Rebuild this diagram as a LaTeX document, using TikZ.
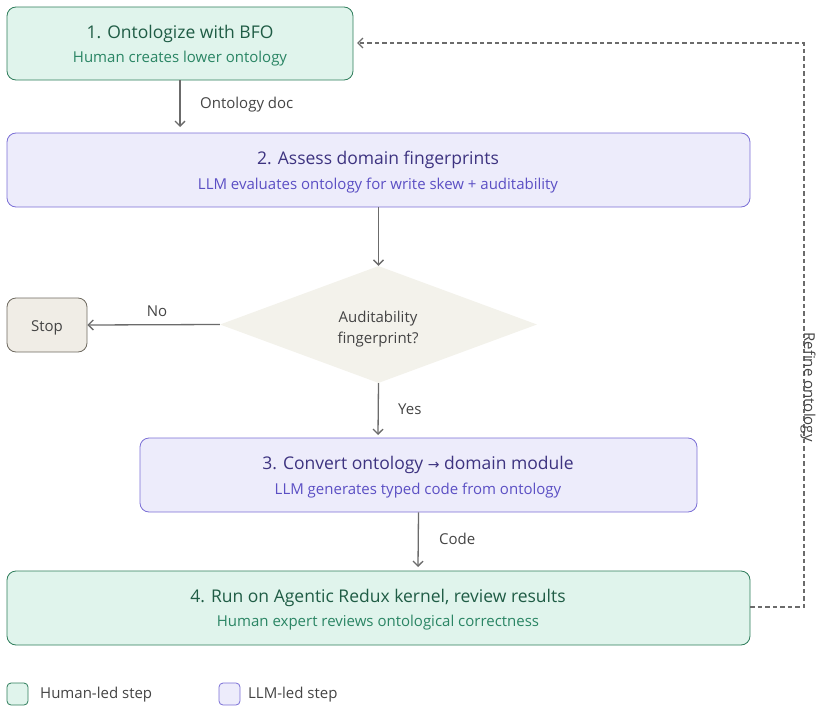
\documentclass[tikz,border=0pt]{standalone}
\usepackage{fontspec}
\setmainfont{Open Sans}
\newfontfamily\symfont{DejaVu Sans}
\usetikzlibrary{shapes.geometric,arrows.meta}
\definecolor{hfill}{HTML}{E0F4EC}
\definecolor{hdraw}{HTML}{2E7D5B}
\definecolor{htitle}{HTML}{1F5C45}
\definecolor{hsub}{HTML}{2A8564}
\definecolor{lfill}{HTML}{EDECFB}
\definecolor{ldraw}{HTML}{7B6FD6}
\definecolor{ltitle}{HTML}{3D3380}
\definecolor{lsub}{HTML}{5B4FC4}
\definecolor{dfill}{HTML}{F3F2EB}
\definecolor{sfill}{HTML}{F0EDE6}
\definecolor{sdraw}{HTML}{6E6A60}
\definecolor{edge}{HTML}{6B6B6B}
\definecolor{lbl}{HTML}{444444}
\tikzset{
  human/.style={draw=hdraw, fill=hfill, rounded corners=9pt, line width=0.8pt, align=center, inner sep=0pt},
  llm/.style={draw=ldraw, fill=lfill, rounded corners=9pt, line width=0.8pt, align=center, inner sep=0pt},
  flow/.style={draw=edge, line width=1.3pt, -{Straight Barb[length=5pt,width=10pt]}},
  elbl/.style={text=lbl, font=\fontsize{15}{17}\selectfont, anchor=west, inner sep=0pt},
}
\newcommand{\ttl}[2]{{\fontsize{17.5}{20}\selectfont\color{#1}#2}}
\newcommand{\sbt}[2]{{\fontsize{15}{17}\selectfont\color{#1}#2}}
\begin{document}
\begin{tikzpicture}[x=1pt,y=-1pt]
\useasboundingbox (0,0) rectangle (825,712);
% boxes
\node[human, minimum width=346pt, minimum height=73pt] (s1) at (180,43.5) {};
\node at (180,33.5) {\ttl{htitle}{1. Ontologize with BFO}};
\node at (180,59) {\sbt{hsub}{Human creates lower ontology}};
\node[llm, minimum width=743pt, minimum height=74pt] (s2) at (378.5,170) {};
\node at (378,159.5) {\ttl{ltitle}{2. Assess domain fingerprints}};
\node at (378,186) {\sbt{lsub}{LLM evaluates ontology for write skew + auditability}};
\node[diamond, fill=dfill, minimum width=317pt, minimum height=117pt, inner sep=0pt] (d) at (378.5,324.5) {};
\node[align=center, text=lbl, font=\fontsize{15}{21}\selectfont] at (378,329) {Auditability\\fingerprint?};
\node[draw=sdraw, fill=sfill, rounded corners=9pt, line width=0.8pt, minimum width=80pt, minimum height=54pt, inner sep=0pt] (stop) at (47,325) {};
\node[text=lbl, font=\fontsize{15}{17}\selectfont] at (47,328) {Stop};
\node[llm, minimum width=557pt, minimum height=74pt] (s3) at (418.5,475) {};
\node at (418,464.5) {\ttl{ltitle}{3. Convert ontology {\symfont\fontsize{14}{16}\selectfont →} domain module}};
\node at (418,491) {\sbt{lsub}{LLM generates typed code from ontology}};
\node[human, minimum width=743pt, minimum height=74pt] (s4) at (378.5,608) {};
\node at (378,597.5) {\ttl{htitle}{4. Run on Agentic Redux kernel, review results}};
\node at (378,623) {\sbt{hsub}{Human expert reviews ontological correctness}};
% connectors
\coordinate (a2) at (180,127);
\draw[flow] (s1.south) -- (a2);
\node[elbl] at (200,105) {Ontology doc};
\draw[flow] (s2.south) -- (d.north);
\draw[flow] (d.west) -- (stop.east);
\node[elbl, anchor=center] at (157,311) {No};
\coordinate (a3) at (378,435);
\draw[flow] (d.south) -- (a3);
\node[elbl] at (398,409) {Yes};
\coordinate (a4) at (418,567);
\draw[flow] (s3.south) -- (a4);
\node[elbl] at (439,539) {Code};
\coordinate (c1) at (804,607);
\coordinate (c2) at (804,43);
\coordinate (c3) at (357,43);
\draw[flow, dash pattern=on 4.5pt off 3pt] (s4.east |- c1) -- (c1) -- (c2) -- (c3);
\node[rotate=-90, text=lbl, font=\fontsize{15}{17}\selectfont, inner sep=0pt] at (808,387) {Refine ontology};
% legend
\node[human, rounded corners=4pt, minimum width=21pt, minimum height=22pt] (lg1) at (17.5,694) {};
\node[elbl] at (40,695) {Human-led step};
\node[llm, rounded corners=4pt, minimum width=21pt, minimum height=22pt] (lg2) at (229.5,694) {};
\node[elbl] at (248,695) {LLM-led step};
\end{tikzpicture}
\end{document}
